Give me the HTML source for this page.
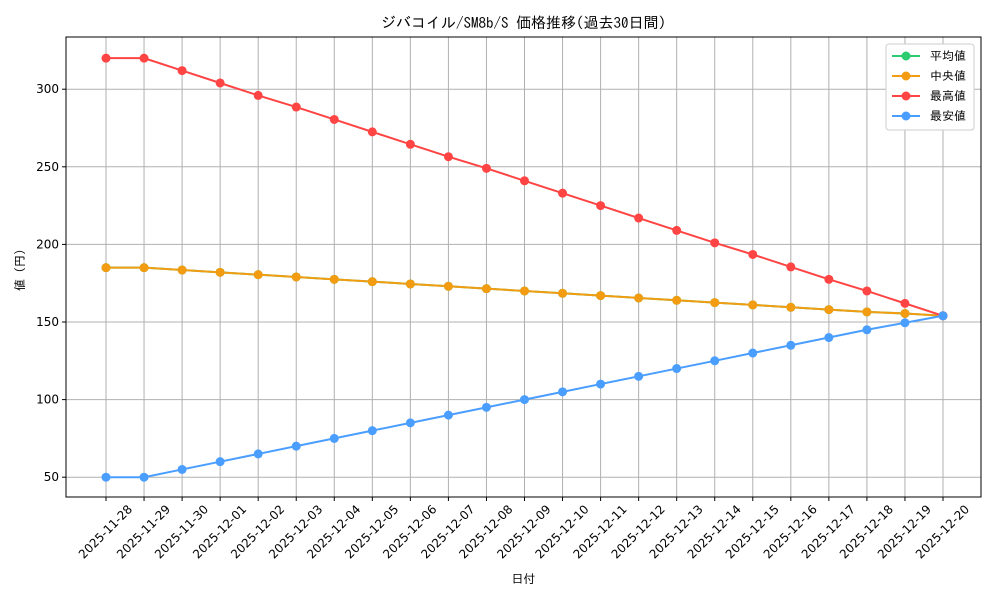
<!DOCTYPE html>
<html><head><meta charset="utf-8"><style>
body{margin:0;background:#fff}
svg{font-family:"IPAGothic","Noto Sans CJK JP",sans-serif}
.t{font-family:"DejaVu Sans","Liberation Sans",sans-serif}
</style></head><body>
<svg id="c" width="1000" height="600"></svg>
<script>
const dates=["2025-11-28","2025-11-29","2025-11-30","2025-12-01","2025-12-02","2025-12-03","2025-12-04","2025-12-05","2025-12-06","2025-12-07","2025-12-08","2025-12-09","2025-12-10","2025-12-11","2025-12-12","2025-12-13","2025-12-14","2025-12-15","2025-12-16","2025-12-17","2025-12-18","2025-12-19","2025-12-20"];
const avgVals=[185,185,183.5,182,180.5,179,177.5,176,174.5,173,171.5,170,168.5,167,165.5,164,162.5,161,159.5,158,156.5,155.5,154];
const medVals=[185,185,183.5,182,180.5,179,177.5,176,174.5,173,171.5,170,168.5,167,165.5,164,162.5,161,159.5,158,156.5,155.5,154];
const maxVals=[320,320,312,304,296,288.5,280.5,272.5,264.5,256.5,249,241,233,225,217,209,201,193.5,185.5,177.5,170,162,154];
const minVals=[50,50,55,60,65,70,75,80,85,90,95,100,105,110,115,120,125,130,135,140,145,149.5,154];
const yTicks=[50,100,150,200,250,300];
const NS="http://www.w3.org/2000/svg",svg=document.getElementById('c');
const L=66,R=981,T=37,B=497;
const xs=i=>106+i*(943-106)/(dates.length-1);
const ys=v=>322-(v-150)*1.552;
function mk(t,a,p){const e=document.createElementNS(NS,t);for(const k in a)e.setAttribute(k,a[k]);(p||svg).appendChild(e);return e;}
dates.forEach((d,i)=>{const g=mk('line',{x1:xs(i),x2:xs(i),y1:T,y2:B,stroke:'#b0b0b0','stroke-width':1});


mk('line',{x1:xs(i),x2:xs(i),y1:B,y2:B+4,stroke:'#000'});
const t=mk('text',{x:0,y:0,'font-size':12,'text-anchor':'end',class:'t',transform:`translate(${xs(i)+27},${B+13}) rotate(-45)`});t.textContent=d;

});
yTicks.forEach(v=>{const g=mk('line',{x1:L,x2:R,y1:ys(v),y2:ys(v),stroke:'#b0b0b0','stroke-width':1});


mk('line',{x1:L-4,x2:L,y1:ys(v),y2:ys(v),stroke:'#000'});
const t=mk('text',{x:L-7,y:ys(v)+4,'font-size':12,'text-anchor':'end',class:'t'});t.textContent=v;

});
const series=[["平均値",avgVals,"#2ecc71"],["中央値",medVals,"#f39c12"],["最高値",maxVals,"#ff4444"],["最安値",minVals,"#4a9eff"]];
series.forEach(([n,vals,c])=>{const g=mk('g',{});


mk('polyline',{points:vals.map((v,i)=>xs(i)+','+ys(v)).join(' '),fill:'none',stroke:c,'stroke-width':2},g);
vals.forEach((v,i)=>mk('circle',{cx:xs(i),cy:ys(v),r:4.5,fill:c},g));});
const fr=mk('rect',{x:L,y:T,width:R-L,height:B-T,fill:'none',stroke:'#000','stroke-width':1});


const ti=mk('text',{x:(L+R)/2,y:28,'font-size':15,'text-anchor':'middle'});ti.textContent="ジバコイル/SM8b/S 価格推移(過去30日間)";


const xl=mk('text',{x:(L+R)/2,y:583,'font-size':12,'text-anchor':'middle'});xl.textContent="日付";


const yl=mk('text',{x:0,y:0,'font-size':12,'text-anchor':'middle',transform:`translate(24,270) rotate(-90)`});yl.textContent="値 (円)";


const lg=mk('g',{});


mk('rect',{x:886,y:44,width:88,height:86,fill:'#fff',stroke:'#ccc',rx:3},lg);
series.forEach(([n,v,c],i)=>{const y=56+i*20;
mk('line',{x1:892,x2:920,y1:y,y2:y,stroke:c,'stroke-width':2},lg);
mk('circle',{cx:906,cy:y,r:4.5,fill:c},lg);
const t=mk('text',{x:930,y:y+4,'font-size':12},lg);t.textContent=n;

});
</script></body></html>
